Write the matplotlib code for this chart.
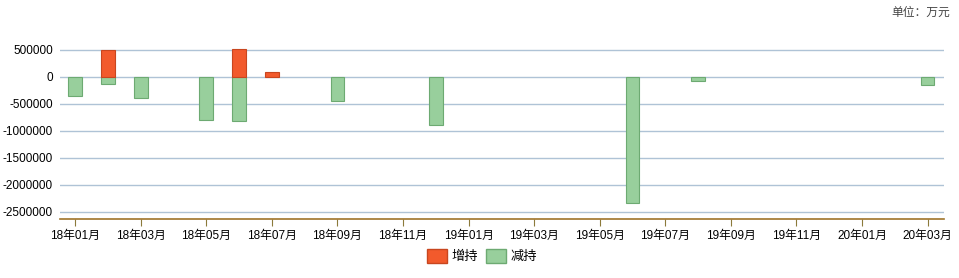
import matplotlib.pyplot as plt
from matplotlib.patches import Patch

plt.rcParams["font.family"] = ["Liberation Sans", "Noto Sans CJK SC"]

# Monthly holdings changes, unit: 10k yuan
months = [
    "18年01月", "18年02月", "18年03月", "18年04月", "18年05月", "18年06月",
    "18年07月", "18年08月", "18年09月", "18年10月", "18年11月", "18年12月",
    "19年01月", "19年02月", "19年03月", "19年04月", "19年05月", "19年06月",
    "19年07月", "19年08月", "19年09月", "19年10月", "19年11月", "19年12月",
    "20年01月", "20年02月", "20年03月",
]
increase = [0, 500000, 0, 0, 0, 518000, 92000, 0, 0, 0, 0, 0,
            0, 0, 0, 0, 0, 0, 0, 0, 0, 0, 0, 0, 0, 0, 0]
decrease = [-355000, -135000, -395000, 0, -800000, -822000, 0, 0, -445000, 0, 0, -890000,
            0, 0, 0, 0, 0, -2340000, 0, -85000, 0, 0, 0, 0, 0, 0, -160000]
yticks = [500000, 0, -500000, -1000000, -1500000, -2000000, -2500000]

inc_color = "#F25A2C"
inc_edge = "#C8461F"
dec_color = "#98CF9C"
dec_edge = "#6DAA72"

fig = plt.figure(figsize=(9.59, 2.78), dpi=100)
ax = fig.add_axes([60 / 959, 59 / 278, 884 / 959, 191 / 278])

# only draw months that actually have a value
dec_x = [i for i, v in enumerate(decrease) if v != 0]
dec_v = [v for v in decrease if v != 0]
inc_x = [i for i, v in enumerate(increase) if v != 0]
inc_v = [v for v in increase if v != 0]
ax.bar(dec_x, dec_v, width=0.42, color=dec_color, edgecolor=dec_edge, linewidth=0.8, zorder=3)
ax.bar(inc_x, inc_v, width=0.42, color=inc_color, edgecolor=inc_edge, linewidth=0.8, zorder=3)

ax.set_xlim(-0.46, 26.5)
ax.set_ylim(-2630000, 900000)
ax.set_yticks(yticks)
ax.set_yticklabels([str(v) for v in yticks], fontsize=8.5)
ax.yaxis.grid(True, color="#AFC3D6", linewidth=1.0, zorder=0)
ax.tick_params(axis="y", length=0, pad=5)

x = list(range(len(months)))
ax.set_xticks(x[::2])
ax.set_xticklabels(months[::2], fontsize=8.5)
ax.tick_params(axis="x", direction="out", length=5, color="#8C7A3A", pad=3)

for side in ["top", "left", "right"]:
    ax.spines[side].set_visible(False)
ax.spines["bottom"].set_color("#A0742A")
ax.spines["bottom"].set_linewidth(1.2)

handles = [
    Patch(facecolor=inc_color, edgecolor=inc_edge, label="增持"),
    Patch(facecolor=dec_color, edgecolor=dec_edge, label="减持"),
]
fig.legend(handles=handles, loc="center", bbox_to_anchor=(482 / 959, 1 - 256 / 278),
           ncol=2, frameon=False, fontsize=9.5, handlelength=1.5, handleheight=1.3,
           handletextpad=0.35, columnspacing=0.6)

fig.text(950 / 959, 1 - 13 / 278, "单位：万元", ha="right", va="center", fontsize=8.5,
         color="#444444")

fig.savefig("out.png", dpi=100)
